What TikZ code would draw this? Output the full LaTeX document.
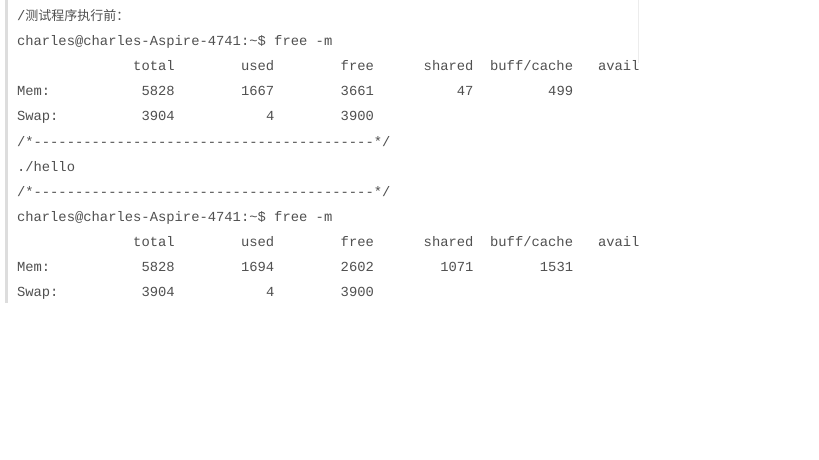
\documentclass[tikz,border=0pt]{standalone}
\usepackage{fontspec}
\setmonofont{Liberation Mono}
\newfontfamily\cjkfont{Noto Sans CJK SC}
\definecolor{txt}{RGB}{80,80,80}
\definecolor{barc}{RGB}{221,221,221}
\definecolor{edgec}{RGB}{236,236,236}
\begin{document}
\begin{tikzpicture}[x=1pt,y=-1pt,
  every node/.style={inner sep=0pt,outer sep=0pt,text=txt},
  mono/.style={font=\fontsize{13.83}{16}\selectfont\ttfamily,anchor=base west},
  num/.style={font=\fontsize{13.83}{16}\selectfont\ttfamily,anchor=base east}]
\useasboundingbox[fill=white] (0,0) rectangle (819,460);
% borders
\fill[barc] (4.5,0) rectangle (7.5,302.5);
\draw[edgec,line width=0.8pt] (638.5,0) -- (638.5,63);
% row 1
\node[mono] (l1) at (17,20.5) {/\cjkfont\fontsize{13}{16}\selectfont 测试程序执行前：};
% row 2
\node[mono] (l2) at (17,{20.5+1*25.1}) {charles@charles-Aspire-4741:\textasciitilde\$ free -m};
% header 1
\node[num] (h1a) at ({17+19*8.3},{20.5+2*25.1}) {total};
\node[num] (h1b) at ({17+31*8.3},{20.5+2*25.1}) {used};
\node[num] (h1c) at ({17+43*8.3},{20.5+2*25.1}) {free};
\node[num] (h1d) at ({17+55*8.3},{20.5+2*25.1}) {shared};
\node[num] (h1e) at ({17+67*8.3},{20.5+2*25.1}) {buff/cache};
\node[mono] (h1f) at ({17+70*8.3},{20.5+2*25.1}) {avail};
% mem 1
\node[mono] (m1) at (17,{20.5+3*25.1}) {Mem:};
\node[num] (m1a) at ({17+19*8.3},{20.5+3*25.1}) {5828};
\node[num] (m1b) at ({17+31*8.3},{20.5+3*25.1}) {1667};
\node[num] (m1c) at ({17+43*8.3},{20.5+3*25.1}) {3661};
\node[num] (m1d) at ({17+55*8.3},{20.5+3*25.1}) {47};
\node[num] (m1e) at ({17+67*8.3},{20.5+3*25.1}) {499};
% swap 1
\node[mono] (s1) at (17,{20.5+4*25.1}) {Swap:};
\node[num] (s1a) at ({17+19*8.3},{20.5+4*25.1}) {3904};
\node[num] (s1b) at ({17+31*8.3},{20.5+4*25.1}) {4};
\node[num] (s1c) at ({17+43*8.3},{20.5+4*25.1}) {3900};
% separators and hello
\node[mono] (d1) at (17,{20.5+5*25.1}) {/*-----------------------------------------*/};
\node[mono] (hello) at (17,{20.5+6*25.1}) {./hello};
\node[mono] (d2) at (17,{20.5+7*25.1}) {/*-----------------------------------------*/};
% second command
\node[mono] (l8) at (17,{20.5+8*25.1}) {charles@charles-Aspire-4741:\textasciitilde\$ free -m};
% header 2
\node[num] (h2a) at ({17+19*8.3},{20.5+9*25.1}) {total};
\node[num] (h2b) at ({17+31*8.3},{20.5+9*25.1}) {used};
\node[num] (h2c) at ({17+43*8.3},{20.5+9*25.1}) {free};
\node[num] (h2d) at ({17+55*8.3},{20.5+9*25.1}) {shared};
\node[num] (h2e) at ({17+67*8.3},{20.5+9*25.1}) {buff/cache};
\node[mono] (h2f) at ({17+70*8.3},{20.5+9*25.1}) {avail};
% mem 2
\node[mono] (m2) at (17,{20.5+10*25.1}) {Mem:};
\node[num] (m2a) at ({17+19*8.3},{20.5+10*25.1}) {5828};
\node[num] (m2b) at ({17+31*8.3},{20.5+10*25.1}) {1694};
\node[num] (m2c) at ({17+43*8.3},{20.5+10*25.1}) {2602};
\node[num] (m2d) at ({17+55*8.3},{20.5+10*25.1}) {1071};
\node[num] (m2e) at ({17+67*8.3},{20.5+10*25.1}) {1531};
% swap 2
\node[mono] (s2) at (17,{20.5+11*25.1}) {Swap:};
\node[num] (s2a) at ({17+19*8.3},{20.5+11*25.1}) {3904};
\node[num] (s2b) at ({17+31*8.3},{20.5+11*25.1}) {4};
\node[num] (s2c) at ({17+43*8.3},{20.5+11*25.1}) {3900};
\end{tikzpicture}
\end{document}
